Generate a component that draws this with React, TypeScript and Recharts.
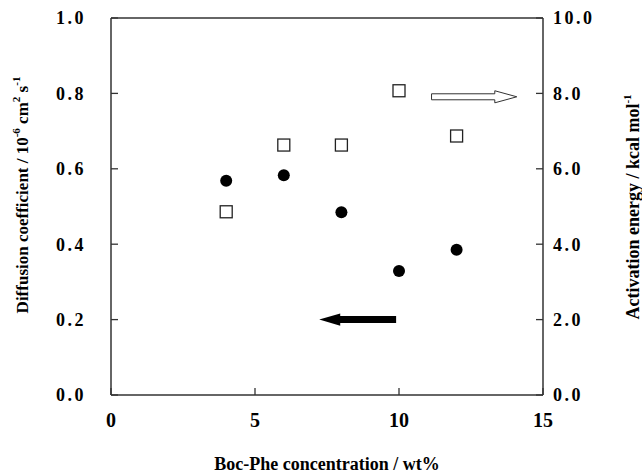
import React from 'react';
import {
  ScatterChart,
  Scatter,
  XAxis,
  YAxis,
  ReferenceLine,
  ReferenceArea,
  Label
} from 'recharts';

// Boc-Phe concentration (wt%)
const concentration = [4, 6, 8, 10, 12];
// diffusion coefficient (10^-6 cm2 s-1), left axis
const diffusion = [0.568, 0.583, 0.485, 0.329, 0.385];
// activation energy (kcal mol-1), right axis
const activation = [4.86, 6.63, 6.63, 8.07, 6.87];

const xTicks = [0, 5, 10, 15];
const leftTicks = [0, 0.2, 0.4, 0.6, 0.8, 1.0];
const rightTicks = [0, 2, 4, 6, 8, 10];

// arrows pointing to the axis each series belongs to: [xStart, xEnd, y]
const leftArrow = [7.23, 9.9, 0.2];
const rightArrow = [11.13, 14.09, 7.91];

const diffusionData = concentration.map((x, i) => ({ x, y: diffusion[i] }));
const activationData = concentration.map((x, i) => ({ x, y: activation[i] }));

const FONT = 'Liberation Serif';
const AXIS = '#333333';

// tick text drawn by hand so the serif font sticks
const makeTick = (size: number, dy: string, decimals: number, spacing = 0) => (p: any) => (
  <text
    x={p.x}
    y={p.y}
    dy={dy}
    textAnchor={p.textAnchor}
    fontFamily={FONT}
    fontWeight={700}
    fontSize={size}
    letterSpacing={spacing}
    fill="#000"
  >
    {decimals > 0 ? Number(p.payload.value).toFixed(decimals) : p.payload.value}
  </text>
);

const Dot = (p: any) => <circle cx={p.cx} cy={p.cy} r={6} fill="#000" />;
const Box = (p: any) => (
  <rect x={p.cx - 6} y={p.cy - 6} width={12} height={12} fill="#fff" stroke="#222" strokeWidth={1.3} />
);

const ArrowLeft = (p: any) => {
  const { x, y, width, height } = p;
  const cy = y + height / 2;
  const head = 21;
  const s = 3.5;
  const pts = [
    [x, cy], [x + head, y], [x + head, cy - s], [x + width, cy - s],
    [x + width, cy + s], [x + head, cy + s], [x + head, y + height]
  ].map(q => q.join(',')).join(' ');
  return <polygon points={pts} fill="#000" />;
};

const ArrowRight = (p: any) => {
  const { x, y, width, height } = p;
  const cy = y + height / 2;
  const head = 22;
  const s = 3;
  const r = x + width;
  const pts = [
    [r, cy], [r - head, y], [r - head, cy - s], [x, cy - s],
    [x, cy + s], [r - head, cy + s], [r - head, y + height]
  ].map(q => q.join(',')).join(' ');
  return <polygon points={pts} fill="#fff" stroke="#333" strokeWidth={1} />;
};

const LeftTitle = () => (
  <text
    x={22} y={195} transform="rotate(-90, 22, 195)" textAnchor="middle" dominantBaseline="central"
    fontFamily={FONT} fontWeight={700} fontSize={17} fill="#000"
  >
    Diffusion coefficient / 10
    <tspan dy={-6} fontSize={11}>-6</tspan>
    <tspan dy={6}> cm</tspan>
    <tspan dy={-6} fontSize={11}>2</tspan>
    <tspan dy={6}> s</tspan>
    <tspan dy={-6} fontSize={11}>-1</tspan>
  </text>
);

const RightTitle = () => (
  <text
    x={633} y={207} transform="rotate(-90, 633, 207)" textAnchor="middle" dominantBaseline="central"
    fontFamily={FONT} fontWeight={700} fontSize={18} fill="#000"
  >
    Activation energy / kcal mol
    <tspan dy={-6} fontSize={11}>-1</tspan>
  </text>
);

const BottomTitle = () => (
  <text x={327} y={470} textAnchor="middle" fontFamily={FONT} fontWeight={700} fontSize={18} fill="#000">
    Boc-Phe concentration / wt%
  </text>
);

export default function App() {
  return (
    <div style={{ position: 'absolute', left: 0, top: 0 }}>
      <ScatterChart width={642} height={474} margin={{ top: 18, right: 0, bottom: 0, left: 0 }}>
        <XAxis
          type="number"
          dataKey="x"
          domain={[0, 15]}
          ticks={xTicks}
          interval={0}
          height={79}
          tickSize={-7}
          tickMargin={25}
          axisLine={{ stroke: AXIS, strokeWidth: 1.5 }}
          tickLine={{ stroke: AXIS, strokeWidth: 1.3 }}
          tick={makeTick(20, '0.71em', 0)}
        >
          <Label content={() => <BottomTitle />} />
        </XAxis>
        <YAxis
          yAxisId="left"
          type="number"
          dataKey="y"
          domain={[0, 1]}
          ticks={leftTicks}
          interval={0}
          width={111}
          tickSize={-7}
          tickMargin={32}
          axisLine={{ stroke: AXIS, strokeWidth: 1.5 }}
          tickLine={{ stroke: AXIS, strokeWidth: 1.3 }}
          tick={makeTick(18, '0.355em', 1, 2.5)}
        >
          <Label content={() => <LeftTitle />} />
        </YAxis>
        <YAxis
          yAxisId="right"
          orientation="right"
          type="number"
          dataKey="y"
          domain={[0, 10]}
          ticks={rightTicks}
          interval={0}
          width={99}
          tickSize={-7}
          tickMargin={17}
          axisLine={{ stroke: AXIS, strokeWidth: 1.5 }}
          tickLine={{ stroke: AXIS, strokeWidth: 1.3 }}
          tick={makeTick(18, '0.355em', 1, 2.5)}
        >
          <Label content={() => <RightTitle />} />
        </YAxis>
        <ReferenceLine yAxisId="left" y={1} stroke={AXIS} strokeWidth={1.5} />
        <ReferenceArea
          yAxisId="left"
          x1={leftArrow[0]}
          x2={leftArrow[1]}
          y1={leftArrow[2] - 0.016}
          y2={leftArrow[2] + 0.016}
          shape={ArrowLeft}
        />
        <ReferenceArea
          yAxisId="right"
          x1={rightArrow[0]}
          x2={rightArrow[1]}
          y1={rightArrow[2] - 0.16}
          y2={rightArrow[2] + 0.16}
          shape={ArrowRight}
        />
        <Scatter yAxisId="left" data={diffusionData} shape={Dot} isAnimationActive={false} />
        <Scatter yAxisId="right" data={activationData} shape={Box} isAnimationActive={false} />
      </ScatterChart>
    </div>
  );
}
